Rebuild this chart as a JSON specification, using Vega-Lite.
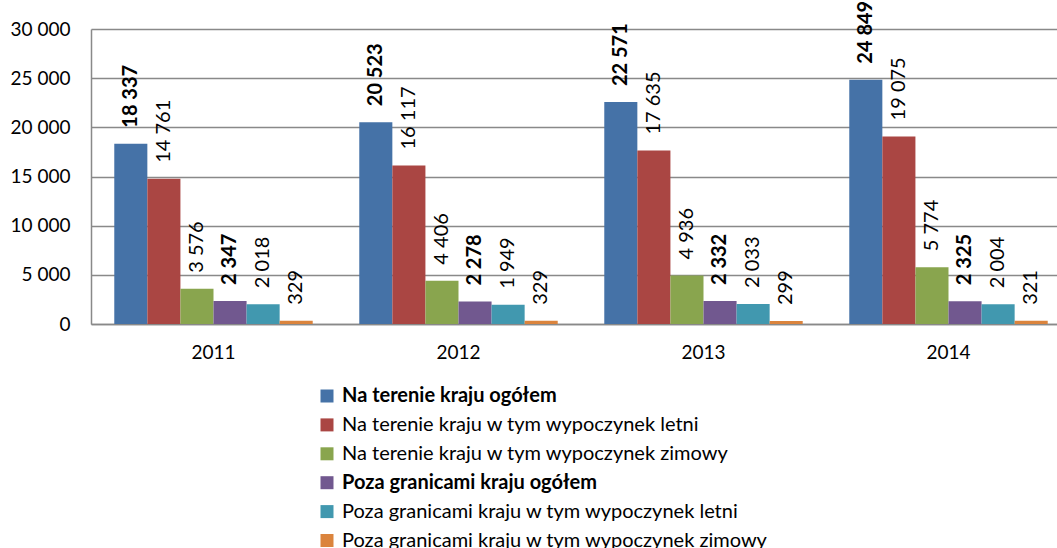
{
  "$schema": "https://vega.github.io/schema/vega-lite/v6.json",
  "autosize": {"type": "none"},
  "padding": {"left": 91, "top": 29, "right": 0, "bottom": 224},
  "width": 966,
  "height": 295,
  "background": "white",
  "config": {
    "font": "Lato",
    "view": {"stroke": null},
    "locale": {"number": {"decimal": ",", "thousands": " ", "grouping": [3], "currency": ["", " zł"]}},
    "axis": {"domainColor": "#898989", "domainWidth": 1.5, "gridColor": "#898989", "gridWidth": 1.5, "ticks": false, "labelFont": "Lato", "labelFontSize": 19, "labelColor": "#000000", "title": null}
  },
  "data": {"values": [
    {"year": "2011", "series": "Na terenie kraju ogółem", "value": 18337},
    {"year": "2011", "series": "Na terenie kraju w tym wypoczynek letni", "value": 14761},
    {"year": "2011", "series": "Na terenie kraju w tym wypoczynek zimowy", "value": 3576},
    {"year": "2011", "series": "Poza granicami kraju ogółem", "value": 2347},
    {"year": "2011", "series": "Poza granicami kraju w tym wypoczynek letni", "value": 2018},
    {"year": "2011", "series": "Poza granicami kraju w tym wypoczynek zimowy", "value": 329},
    {"year": "2012", "series": "Na terenie kraju ogółem", "value": 20523},
    {"year": "2012", "series": "Na terenie kraju w tym wypoczynek letni", "value": 16117},
    {"year": "2012", "series": "Na terenie kraju w tym wypoczynek zimowy", "value": 4406},
    {"year": "2012", "series": "Poza granicami kraju ogółem", "value": 2278},
    {"year": "2012", "series": "Poza granicami kraju w tym wypoczynek letni", "value": 1949},
    {"year": "2012", "series": "Poza granicami kraju w tym wypoczynek zimowy", "value": 329},
    {"year": "2013", "series": "Na terenie kraju ogółem", "value": 22571},
    {"year": "2013", "series": "Na terenie kraju w tym wypoczynek letni", "value": 17635},
    {"year": "2013", "series": "Na terenie kraju w tym wypoczynek zimowy", "value": 4936},
    {"year": "2013", "series": "Poza granicami kraju ogółem", "value": 2332},
    {"year": "2013", "series": "Poza granicami kraju w tym wypoczynek letni", "value": 2033},
    {"year": "2013", "series": "Poza granicami kraju w tym wypoczynek zimowy", "value": 299},
    {"year": "2014", "series": "Na terenie kraju ogółem", "value": 24849},
    {"year": "2014", "series": "Na terenie kraju w tym wypoczynek letni", "value": 19075},
    {"year": "2014", "series": "Na terenie kraju w tym wypoczynek zimowy", "value": 5774},
    {"year": "2014", "series": "Poza granicami kraju ogółem", "value": 2325},
    {"year": "2014", "series": "Poza granicami kraju w tym wypoczynek letni", "value": 2004},
    {"year": "2014", "series": "Poza granicami kraju w tym wypoczynek zimowy", "value": 321}
  ]},
  "encoding": {
    "x": {"field": "year", "type": "nominal", "scale": {"range": [0, 980], "paddingInner": 0.19, "paddingOuter": 0.095},
      "axis": {"labelAngle": 0, "labelPadding": 19, "grid": false}},
    "xOffset": {"field": "series", "type": "nominal", "scale": {"paddingInner": 0, "paddingOuter": 0, "domain": [
      "Na terenie kraju ogółem",
      "Na terenie kraju w tym wypoczynek letni",
      "Na terenie kraju w tym wypoczynek zimowy",
      "Poza granicami kraju ogółem",
      "Poza granicami kraju w tym wypoczynek letni",
      "Poza granicami kraju w tym wypoczynek zimowy"]}},
    "y": {"field": "value", "type": "quantitative", "scale": {"domain": [0, 30000], "nice": false},
      "axis": {"values": [0, 5000, 10000, 15000, 20000, 25000, 30000], "format": ",d", "labelPadding": 21, "grid": true}}
  },
  "layer": [
    {
      "mark": {"type": "bar"},
      "encoding": {
        "color": {"field": "series", "type": "nominal",
          "scale": {"domain": [
            "Na terenie kraju ogółem",
            "Na terenie kraju w tym wypoczynek letni",
            "Na terenie kraju w tym wypoczynek zimowy",
            "Poza granicami kraju ogółem",
            "Poza granicami kraju w tym wypoczynek letni",
            "Poza granicami kraju w tym wypoczynek zimowy"],
            "range": ["#4572A7", "#AA4643", "#89A54E", "#71588F", "#4198AF", "#DB843D"]},
          "legend": {
            "title": null, "orient": "none", "legendX": 226, "legendY": 357, "direction": "vertical",
            "symbolType": "square", "symbolSize": 169, "symbolStrokeWidth": 0, "labelOffset": 5,
            "labelFont": "Lato", "labelFontSize": 20, "labelColor": "#000000", "rowPadding": 8.9, "labelLimit": 700,
            "encode": {"labels": {"update": {"fontWeight": {"signal": "indexof(['Na terenie kraju ogółem','Poza granicami kraju ogółem'], datum.value) >= 0 ? 'bold' : 'normal'"}}}}
          }
        }
      }
    },
    {
      "transform": [{"filter": {"field": "series", "oneOf": ["Na terenie kraju ogółem", "Poza granicami kraju ogółem"]}}],
      "mark": {"type": "text", "angle": 270, "align": "left", "baseline": "middle", "dx": 16, "fontSize": 20, "fontWeight": "bold", "color": "#000000"},
      "encoding": {"text": {"field": "value", "type": "quantitative", "format": ",d"}}
    },
    {
      "transform": [{"filter": {"not": {"field": "series", "oneOf": ["Na terenie kraju ogółem", "Poza granicami kraju ogółem"]}}}],
      "mark": {"type": "text", "angle": 270, "align": "left", "baseline": "middle", "dx": 16, "fontSize": 20, "fontWeight": "normal", "color": "#000000"},
      "encoding": {"text": {"field": "value", "type": "quantitative", "format": ",d"}}
    }
  ]
}
